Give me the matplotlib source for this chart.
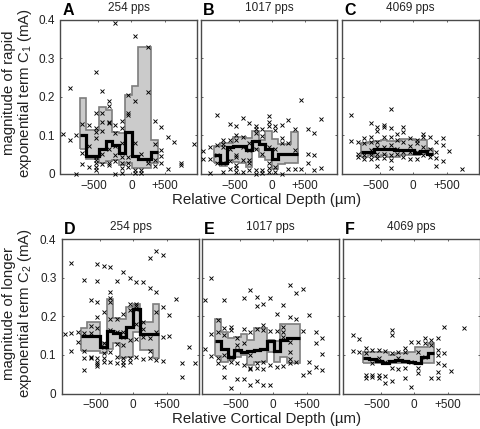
"""Six-panel figure: current term magnitude vs relative cortical depth."""

import matplotlib

matplotlib.use("Agg")
import matplotlib.pyplot as plt  # noqa: E402
from matplotlib.transforms import ScaledTranslation  # noqa: E402

plt.rcParams.update({
    "font.family": ["Liberation Sans", "DejaVu Sans"],
    "mathtext.fontset": "custom", "mathtext.rm": "Liberation Sans",
    "mathtext.default": "regular",
})

W, H = 481, 429
GREY, EDGE, SPINE, TXT = "#cbcbcb", "#7d7d7d", "#4a4a4a", "#222222"

# each entry: depth (um), magnitudes (mA) of the units recorded there
a_pts = [
    (-1025, [.104]), (-925, [.222, .088]), (-830, [.101, 0]), (-735, [.130, .055, .027]),
    (-635, [.127, .073, .017]),
    (-535, [.264, .157, .12, .11, .092, .045, .036, .028, .019, .010]),
    (-435, [.215, .157, .135, .112, .053, .025]),
    (-340, [.19, .176, .135, .133, .066, .028, .023]),
    (-240, [.39, .105, .127, .072, .049, .034, 0]),
    (-145, [.137, .118, .079, .045, .028, .015, .002]),
    (-50, [.204, .157, .154, .045, .028, .019]),
    (50, [.357, .189, .079, .01, .002]), (150, [.052, .01, .002]),
    (250, [.329, .213, .036, .028]), (350, [.138, .078, .036, .022]),
    (445, [.121, .062, .047, .028]), (545, [.097, .012]), (640, [.082]),
    (740, [.028, .023]), (935, [.078]),
]
b_pts = [
    (-1030, [.059, .038]), (-930, [.071, .038, .003]), (-830, [.152, .075, .049, .028]),
    (-730, [.088, .077, .071, .028, .005]), (-635, [.129, .088, .066, .034, .012]),
    (-535, [.124, .101, .088, .049, .043, .023, .015, .005]),
    (-440, [.146, .097, .071, .036, .005]), (-340, [.131, .079, .062, .036, .028, .01]),
    (-245, [.124, .116, .105, .066, .01, 0]), (-145, [.116, .098, .052, .01, .002]),
    (-50, [.15, .135, .124, .071, .028, .015, .005]),
    (50, [.124, .114, .066, .019, .006]), (145, [.127, .092, .079, 0]),
    (245, [.14, .079, .012]), (340, [.116, .062, .012]), (435, [.192, .012]),
    (535, [.116, .051, .029]), (635, [.107, .049, .01]), (730, [.143, .015]),
]
c_pts = [
    (-925, [.153, .086]), (-825, [.084, .053, .045]), (-730, [.092, .079, .049, .038]),
    (-630, [.133, .097, .084, .062, .049, .038]),
    (-535, [.121, .112, .084, .071, .053, .041, .022]),
    (-435, [.128, .122, .097, .071, .053, .041]),
    (-335, [.167, .118, .095, .075, .049, .036, .016]), (-240, [.103, .088, .066, .053]),
    (-145, [.122, .109, .084, .058, .045]), (-45, [.092, .073, .058, .038]),
    (50, [.088, .079, .058, .038]), (150, [.103, .097, .071, .049]),
    (245, [.095, .066, .045]), (345, [.084, .058, .041, .022]),
    (445, [.092, .074, .034]), (540, [.06]), (735, [.012]),
]
d_pts = [
    (-1025, [.154]), (-930, [.337, .156, .11]), (-830, [.158, .133]),
    (-735, [.295, .157, .11, .091, .06]), (-635, [.241, .175, .156, .095, .091]),
    (-540, [.334, .292, .238, .198, .17, .091, .082, .076, .072]),
    (-440, [.331, .211, .13, .121, .106, .091, .082]),
    (-340, [.327, .262, .246, .236, .194, .164, .108, .082]),
    (-245, [.292, .194, .158, .127, .095, .078]),
    (-145, [.314, .207, .16, .147, .125, .091, .082, .073]),
    (-50, [.30, .233, .216, .138, .091, .082]),
    (45, [.288, .233, .227, .22, .181, .14, .095]),
    (145, [.288, .184, .168, .147, .089]), (245, [.352, .272, .143, .11, .091]),
    (340, [.37, .262, .212, .16, .086]), (440, [.359, .225, .147, .085]),
    (535, [.203, .149]), (635, [.244]), (730, [.079, .043]), (830, [.121]), (925, [.079]),
]
e_pts = [
    (-1025, [.242, .114]), (-925, [.30, .153, .098]), (-830, [.19, .158, .091, .078]),
    (-730, [.242, .17, .151, .099, .069, .043]), (-630, [.173, .164, .095, .082, .013]),
    (-535, [.144, .125, .112, .08, .037]), (-435, [.248, .168, .13, .073, .037]),
    (-340, [.268, .16, .099, .067, .063, .022]), (-245, [.25, .227, .168, .078, .065, .033]),
    (-145, [.233, .177, .164, .082, .063, .022]), (-45, [.246, .162, .073, .023]),
    (50, [.205, .162, .069]), (150, [.229, .173, .16, .147, .072]),
    (245, [.281, .199, .134, .108, .089, .08]), (345, [.261, .193, .082]),
    (440, [.27, .162, .048]), (540, [.203, .082, .056]), (635, [.158, .132, .069]),
    (735, [.144, .102, .06]),
]
f_pts = [
    (-920, [.151, .111]), (-820, [.141, .108]), (-725, [.118, .106, .049, .041]),
    (-625, [.112, .078, .049, .043]), (-530, [.112, .091, .049, .041]),
    (-430, [.11, .082, .045, .026]), (-335, [.164, .151, .104, .065, .033]),
    (-235, [.108, .091, .063]), (-140, [.118, .108, .065, .041]), (-40, [.134, .082, .017]),
    (55, [.134, .108, .065, .052]), (155, [.143, .13, .095]), (250, [.138, .125, .041]),
    (350, [.143, .112, .099, .078, .056, .041]), (445, [.172, .106, .073]), (545, [.058]),
    (740, [.17]),
]

# binned quartiles and medians
a_edges = [-775, -680, -580, -485, -385, -290, -190, -95, 5, 100, 200, 300, 395]
a_upper = [.198, .115, .115, .174, .165, .11, .105, .204, .229, .328, .328, .088]
a_lower = [.064, .04, .04, .028, .034, .036, .023, .028, .016, .015, .015, .028]
a_median = [.101, .047, .047, .064, .086, .075, .055, .109, .047, .038, .038, .057]

b_edges = [-875, -780, -680, -585, -490, -390, -295, -195, -100, 0, 95, 195, 290, 390]
b_upper = [.072, .081, .081, .095, .097, .092, .111, .088, .112, .09, .078, .078, .108]
b_lower = [.029, .022, .036, .03, .028, .017, .066, .043, .036, .012, .026, .028, .028]
b_median = [.049, .028, .071, .072, .072, .062, .086, .078, .066, .04, .051, .051, .051]

c_edges = [-775, -680, -580, -485, -385, -290, -190, -95, 5, 100, 200, 295]
c_upper = [.079, .084, .086, .088, .086, .086, .09, .09, .088, .088, .065]
c_lower = [.045, .048, .045, .048, .045, .045, .05, .05, .048, .052, .048]
c_median = [.058, .058, .065, .065, .065, .062, .062, .062, .055, .06, .052]

d_edges = [-780, -685, -585, -490, -390, -295, -195, -100, 0, 95, 195, 290, 390]
d_upper = [.17, .186, .186, .13, .245, .196, .192, .225, .233, .184, .184, .233]
d_lower = [.11, .11, .11, .104, .115, .13, .091, .095, .16, .112, .112, .091]
d_median = [.15, .15, .15, .12, .162, .156, .147, .173, .218, .155, .155, .155]

e_edges = [-870, -775, -680, -580, -485, -385, -290, -190, -95, 5, 100, 200, 295, 395]
e_upper = [.193, .16, .143, .147, .153, .138, .17, .17, .138, .136, .181, .181, .181]
e_lower = [.098, .082, .086, .095, .099, .075, .082, .082, .108, .082, .095, .078, .078]
e_median = [.136, .115, .095, .112, .108, .11, .112, .115, .136, .11, .138, .143, .143]

f_edges = [-770, -675, -575, -480, -380, -285, -185, -85, 10, 105, 205, 300]
f_upper = [.108, .108, .108, .108, .1, .104, .104, .108, .12, .12, .13]
f_lower = [.078, .078, .078, .078, .078, .078, .078, .078, .078, .078, .078]
f_median = [.092, .09, .085, .078, .085, .088, .085, .082, .078, .095, .105]

ROW1 = "magnitude of rapid\nexponential term C$_1$ (mA)"
ROW2 = "magnitude of longer\nexponential term C$_2$ (mA)"
XLABEL = "Relative Cortical Depth (\u00b5m)"


def make_axes(fig, left, right, top, bottom):
    """Axes from pixel edges in the 481x429 frame."""
    return fig.add_axes([left / W, 1 - bottom / H, (right - left) / W, (bottom - top) / H])


def panel(ax, letter, title, pts, edges, upper, lower, median, show_y=False):
    ax.stairs(upper, edges, baseline=lower, fill=True, facecolor=GREY,
              edgecolor=EDGE, linewidth=1.2, zorder=1)
    ax.stairs(median, edges, baseline=None, color="black", linewidth=2.3, zorder=4)
    xs = [x for x, ys in pts for _ in ys]
    ys = [y for _, vals in pts for y in vals]
    ax.plot(xs, ys, ls="none", marker="x", ms=3.2, mew=0.65, color="black",
            clip_on=False, zorder=3)
    ax.set_xlim(-1065, 985)
    ax.set_ylim(0, 0.4)
    ax.set_xticks([-500, 0, 500], ["\u2212500", "0", "+500"])
    ax.set_yticks([0, 0.1, 0.2, 0.3, 0.4])
    if show_y:
        ax.set_yticklabels(["0", "0.1", "0.2", "0.3", "0.4"])
    else:
        ax.set_yticklabels([])
    ax.tick_params(direction="in", length=1.5, width=0.6, top=True, right=True,
                   labelsize=8.5, labelcolor=TXT, color=SPINE, pad=4)
    # the -500 label sits a little left of its tick
    lab = ax.get_xticklabels()[0]
    lab.set_transform(lab.get_transform()
                      + ScaledTranslation(-4 / 100, 0, ax.figure.dpi_scale_trans))
    for s in ax.spines.values():
        s.set_color(SPINE)
        s.set_linewidth(1.0)
    ax.text(0.5, 1.057, title, transform=ax.transAxes, ha="center", va="baseline",
            fontsize=8.5, color=TXT)
    ax.text(0.015, 1.032, letter, transform=ax.transAxes, ha="left", va="baseline",
            fontsize=11.5, fontweight="bold", color="black")


def main():
    fig = plt.figure(figsize=(W / 100, H / 100), dpi=100)

    ax = make_axes(fig, 60.5, 197, 19.5, 174)
    panel(ax, "A", "254 pps", a_pts, a_edges, a_upper, a_lower, a_median, show_y=True)
    ax = make_axes(fig, 201, 337.5, 19.5, 174)
    panel(ax, "B", "1017 pps", b_pts, b_edges, b_upper, b_lower, b_median)
    ax = make_axes(fig, 342, 479, 19.5, 174)
    panel(ax, "C", "4069 pps", c_pts, c_edges, c_upper, c_lower, c_median)

    ax = make_axes(fig, 62, 199, 239, 393.5)
    panel(ax, "D", "254 pps", d_pts, d_edges, d_upper, d_lower, d_median, show_y=True)
    ax = make_axes(fig, 202, 339, 239, 393.5)
    panel(ax, "E", "1017 pps", e_pts, e_edges, e_upper, e_lower, e_median)
    ax = make_axes(fig, 343, 480, 239, 393.5)
    panel(ax, "F", "4069 pps", f_pts, f_edges, f_upper, f_lower, f_median)

    for label, y in ((ROW1, 93), (ROW2, 313)):
        fig.text(18 / W, 1 - y / H, label, rotation=90, ha="center", va="center",
                 fontsize=10.8, color=TXT, linespacing=1.0, multialignment="center")
    for y in (200, 419):
        fig.text(267 / W, 1 - y / H, XLABEL, ha="center", va="center",
                 fontsize=10.8, color=TXT)

    fig.savefig("out.png", dpi=100)


if __name__ == "__main__":
    main()
